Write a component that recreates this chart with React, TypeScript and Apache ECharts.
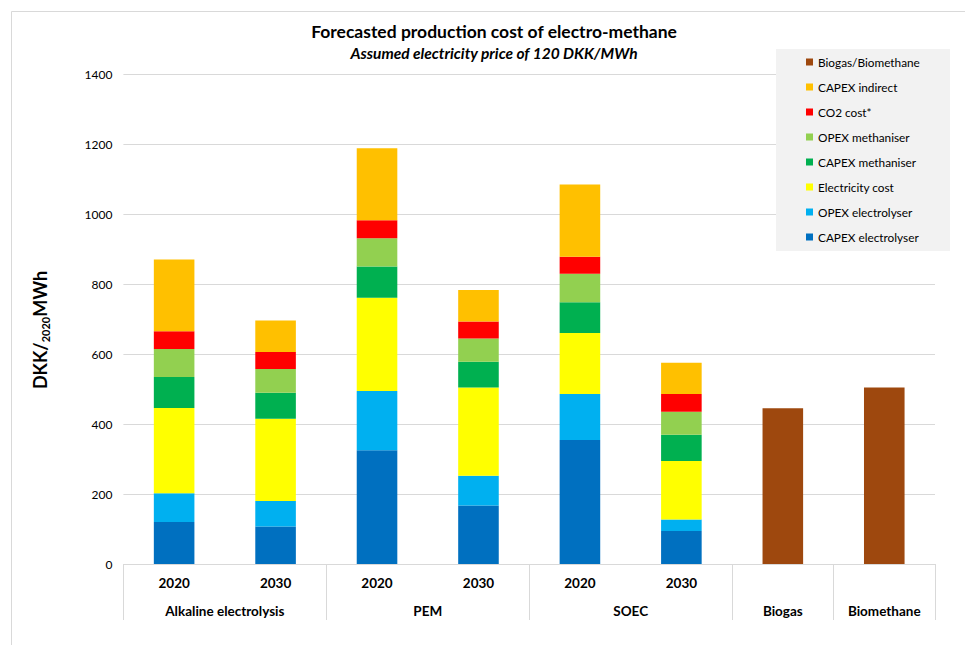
import React, { useEffect, useRef } from "react";
import * as echarts from "echarts";

// ---- Data ----
const categories = ["2020", "2030", "2020", "2030", "2020", "2030", "", ""];
const groupLabels = ["Alkaline electrolysis", "PEM", "SOEC", "Biogas", "Biomethane"];
const groupSizes = [2, 2, 2, 1, 1];

const capexElectrolyser = [120, 107, 325, 167, 354, 94, null, null];
const opexElectrolyser = [82, 73, 169, 85, 132, 33, null, null];
const electricityCost = [244, 235, 267, 252, 174, 167, null, null];
const capexMethaniser = [88, 74, 89, 74, 88, 75, null, null];
const opexMethaniser = [80, 68, 81, 66, 81, 66, null, null];
const co2Cost = [51, 49, 51, 49, 49, 51, null, null];
const capexIndirect = [205, 90, 206, 90, 206, 89, null, null];
const biogasBiomethane = [null, null, null, null, null, null, 445, 504];

const yMin = 0;
const yMax = 1400;
const yInterval = 200;

const seriesNames = [
  "CAPEX electrolyser",
  "OPEX electrolyser",
  "Electricity cost",
  "CAPEX methaniser",
  "OPEX methaniser",
  "CO2 cost*",
  "CAPEX indirect",
  "Biogas/Biomethane",
];
const seriesData = [
  capexElectrolyser,
  opexElectrolyser,
  electricityCost,
  capexMethaniser,
  opexMethaniser,
  co2Cost,
  capexIndirect,
  biogasBiomethane,
];
const seriesColors = [
  "#0070C0",
  "#00B0F0",
  "#FFFF00",
  "#00B050",
  "#92D050",
  "#FF0000",
  "#FFC000",
  "#9E480E",
];

const FONT = "Lato, 'Open Sans', sans-serif";

export default function App() {
  const ref = useRef<HTMLDivElement>(null);

  useEffect(() => {
    document.body.style.margin = "0";
    if (!ref.current) return;
    const chart = echarts.init(ref.current, null, { renderer: "svg" });

    // group boundaries / centres (in category units)
    const groupStarts: number[] = [];
    const groupCentersHalf: Record<number, string> = {};
    let acc = 0;
    groupSizes.forEach((s, i) => {
      groupStarts.push(acc);
      groupCentersHalf[acc * 2 + s] = groupLabels[i];
      acc += s;
    });

    const option: any = {
      animation: false,
      backgroundColor: "#ffffff",
      textStyle: { fontFamily: FONT },
      title: [
        {
          text: "Forecasted production cost of electro-methane",
          left: 494,
          top: 22,
          textAlign: "center",
          padding: 0,
          textStyle: { fontFamily: FONT, fontSize: 17.5, fontWeight: "bold", color: "#000" },
        },
        {
          text: "Assumed electricity price of 120 DKK/MWh",
          left: 494,
          top: 45,
          textAlign: "center",
          padding: 0,
          textStyle: {
            fontFamily: FONT,
            fontSize: 15.5,
            fontWeight: "bold",
            fontStyle: "italic",
            color: "#000",
          },
        },
      ],
      legend: {
        orient: "vertical",
        left: 806,
        top: 55,
        padding: 0,
        itemWidth: 7,
        itemHeight: 7,
        itemGap: 11,
        icon: "rect",
        selectedMode: false,
        data: seriesNames.slice().reverse(),
        textStyle: { fontFamily: FONT, fontSize: 11.8, lineHeight: 14, color: "#000" },
      },
      grid: { left: 123.4, right: 30, top: 74, bottom: 81, containLabel: false },
      xAxis: [
        {
          type: "category",
          data: categories,
          axisLine: { show: true, lineStyle: { color: "#d9d9d9", width: 1 } },
          axisTick: {
            show: true,
            length: 56,
            interval: (index: number) => groupStarts.indexOf(index) >= 0,
            lineStyle: { color: "#d9d9d9", width: 1 },
          },
          axisLabel: {
            margin: 12,
            fontFamily: FONT,
            fontSize: 13.5,
            fontWeight: "bold",
            color: "#000",
            interval: 0,
          },
        },
        {
          type: "value",
          position: "bottom",
          min: 0,
          max: categories.length * 2,
          interval: 1,
          axisLine: { show: false },
          axisTick: { show: false },
          splitLine: { show: false },
          axisLabel: {
            margin: 40,
            fontFamily: FONT,
            fontSize: 13.5,
            fontWeight: "bold",
            color: "#000",
            showMinLabel: true,
            showMaxLabel: true,
            formatter: (v: number) => groupCentersHalf[Math.round(v)] || "",
          },
        },
      ],
      yAxis: {
        type: "value",
        min: yMin,
        max: yMax,
        interval: yInterval,
        axisLine: { show: false },
        axisTick: { show: false },
        splitLine: { lineStyle: { color: "#d9d9d9", width: 1 } },
        axisLabel: {
          margin: 11,
          fontFamily: FONT,
          fontSize: 12,
          color: "#000",
          formatter: (v: number) => String(v),
        },
      },
      graphic: [
        {
          type: "rect",
          z: -10,
          silent: true,
          shape: { x: 11.5, y: 11.5, width: 1000, height: 700 },
          style: { fill: "none", stroke: "#d9d9d9", lineWidth: 1 },
        },
        {
          type: "rect",
          z: 3,
          silent: true,
          shape: { x: 776, y: 49, width: 174, height: 202 },
          style: { fill: "#f2f2f2" },
        },
        {
          type: "text",
          x: 40,
          y: 330,
          rotation: Math.PI / 2,
          style: {
            text: "{a|DKK/}{s|2020}{a|MWh}",
            align: "center",
            verticalAlign: "middle",
            rich: {
              a: { fontFamily: FONT, fontSize: 18, fontWeight: "bold", fill: "#000", lineHeight: 22 },
              s: {
                fontFamily: FONT,
                fontSize: 11,
                fontWeight: "bold",
                fill: "#000",
                lineHeight: 12,
                verticalAlign: "bottom",
              },
            },
          },
        },
      ],
      series: seriesNames.map((name, i) => ({
        name,
        type: "bar",
        stack: "total",
        xAxisIndex: 0,
        barWidth: "40%",
        itemStyle: { color: seriesColors[i] },
        data: seriesData[i],
      })),
    };

    chart.setOption(option);
    return () => chart.dispose();
  }, []);

  return <div ref={ref} style={{ width: 965, height: 645 }} />;
}
